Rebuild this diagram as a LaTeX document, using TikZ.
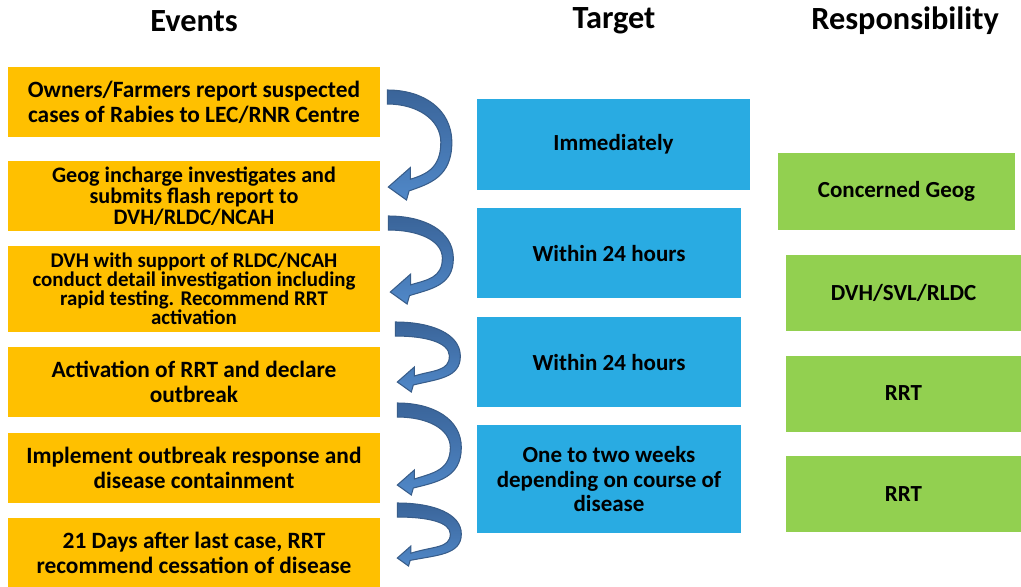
\documentclass[tikz,border=0pt]{standalone}
\usepackage{fontspec}
\setmainfont{Carlito}
\usepackage{tikz}
\usetikzlibrary{calc}

\definecolor{evgold}{HTML}{FFC000}
\definecolor{tgblue}{HTML}{29ABE2}
\definecolor{rsgreen}{HTML}{92D050}
\definecolor{arrowtop}{HTML}{3A6499}
\definecolor{arrowbot}{HTML}{5088C8}
\definecolor{arrowedge}{HTML}{385D8A}

% curved arrow: #1 tail, #2 tip, #3 head size
\newcommand{\bendarrow}[3]{%
  \path[top color=arrowtop, bottom color=arrowbot, draw=arrowedge, line width=0.6pt]
    ($(#1)+(0,-7)$)
    .. controls ($(#1)+(36,-7)$) and ($(#1)!0.2!(#2)+(64,-6)$) .. ($(#1)!0.5!(#2)+(64,0)$)
    .. controls ($(#1)!0.85!(#2)+(64,4)$) and ($(#2)+(40,-3)$) .. ($(#2)+(16*#3,3*#3)$)
    -- ($(#2)+(14*#3,10*#3)$)
    -- (#2)
    -- ($(#2)+(17*#3,-15*#3)$)
    -- ($(#2)+(17*#3,-6*#3)$)
    .. controls ($(#2)+(36,-12)$) and ($(#1)!0.8!(#2)+(53,0)$) .. ($(#1)!0.5!(#2)+(53,0)$)
    .. controls ($(#1)!0.25!(#2)+(53,0)$) and ($(#1)+(30,7)$) .. ($(#1)+(0,7)$)
    -- cycle;}

\begin{document}
\begin{tikzpicture}[x=0.02cm, y=-0.02cm,
    every node/.style={align=center, inner sep=2pt},
    title/.style={font=\fontsize{18.4}{21}\selectfont\bfseries},
    evbox/.style={fill=evgold, minimum width=7.44cm, minimum height=1.4cm,
      font=\fontsize{13.3}{14.2}\selectfont\bfseries},
    tgbox/.style={fill=tgblue, minimum width=5.28cm, minimum height=1.8cm,
      font=\fontsize{13.1}{13.9}\selectfont\bfseries},
    rsbox/.style={fill=rsgreen, minimum width=4.7cm, minimum height=1.52cm,
      font=\fontsize{13.1}{14}\selectfont\bfseries}]
  \useasboundingbox (0,0) rectangle (1021,586);

  % column heads
  \node[title] (hev) at (194,21) {Events};
  \node[title] (htg) at (614,21) {Target};
  \node[title] (hrs) at (905,21) {Responsibility};

  % events
  \node[evbox] (ev1) at (194,102) {Owners/Farmers report suspected\\cases of Rabies to LEC/RNR Centre};
  \node[evbox, font=\fontsize{12.6}{10.7}\selectfont\bfseries] (ev2) at (194,196) {Geog incharge investigates and\\submits flash report to\\DVH/RLDC/NCAH};
  \node[evbox, minimum height=1.72cm, font=\fontsize{11.9}{10.8}\selectfont\bfseries] (ev3) at (194,289) {DVH with support of RLDC/NCAH\\conduct detail investigation including\\rapid testing. Recommend RRT\\activation};
  \node[evbox] (ev4) at (194,382) {Activation of RRT and declare\\outbreak};
  \node[evbox] (ev5) at (194,468) {Implement outbreak response and\\disease containment};
  \node[evbox, minimum height=1.38cm] (ev6) at (194,552.5) {21 Days after last case, RRT\\recommend cessation of disease};

  % targets
  \node[tgbox, minimum width=5.46cm, minimum height=1.82cm] (tg1) at (613.5,144.5) {Immediately};
  \node[tgbox] (tg2) at (609,253) {Within 24 hours};
  \node[tgbox] (tg3) at (609,362) {Within 24 hours};
  \node[tgbox, minimum height=2.16cm] (tg4) at (609,479) {One to two weeks\\depending on course of\\disease};

  % responsibility
  \node[rsbox, minimum width=4.74cm, minimum height=1.54cm] (rs1) at (896.5,191.5) {Concerned Geog};
  \node[rsbox] (rs2) at (903.5,293) {DVH/SVL/RLDC};
  \node[rsbox] (rs3) at (903.5,393.5) {RRT};
  \node[rsbox] (rs4) at (903.5,494) {RRT};

  % arrow ends
  \coordinate (a1s) at ($(ev1.east)+(7,-5)$);
  \coordinate (a1e) at ($(ev2.east)+(8,-9)$);
  \coordinate (a2s) at ($(ev2.east)+(8,27)$);
  \coordinate (a2e) at ($(ev3.east)+(10,3)$);
  \coordinate (a3s) at ($(ev3.east)+(15,40)$);
  \coordinate (a3e) at ($(ev4.east)+(17,0)$);
  \coordinate (a4s) at ($(ev4.east)+(17,28)$);
  \coordinate (a4e) at ($(ev5.east)+(17,17)$);
  \coordinate (a5s) at ($(ev5.east)+(17,42)$);
  \coordinate (a5e) at ($(ev6.east)+(17,5.5)$);

  \bendarrow{a1s}{a1e}{1.3}
  \bendarrow{a2s}{a2e}{1.2}
  \bendarrow{a3s}{a3e}{1.0}
  \bendarrow{a4s}{a4e}{1.0}
  \bendarrow{a5s}{a5e}{0.8}
\end{tikzpicture}
\end{document}
